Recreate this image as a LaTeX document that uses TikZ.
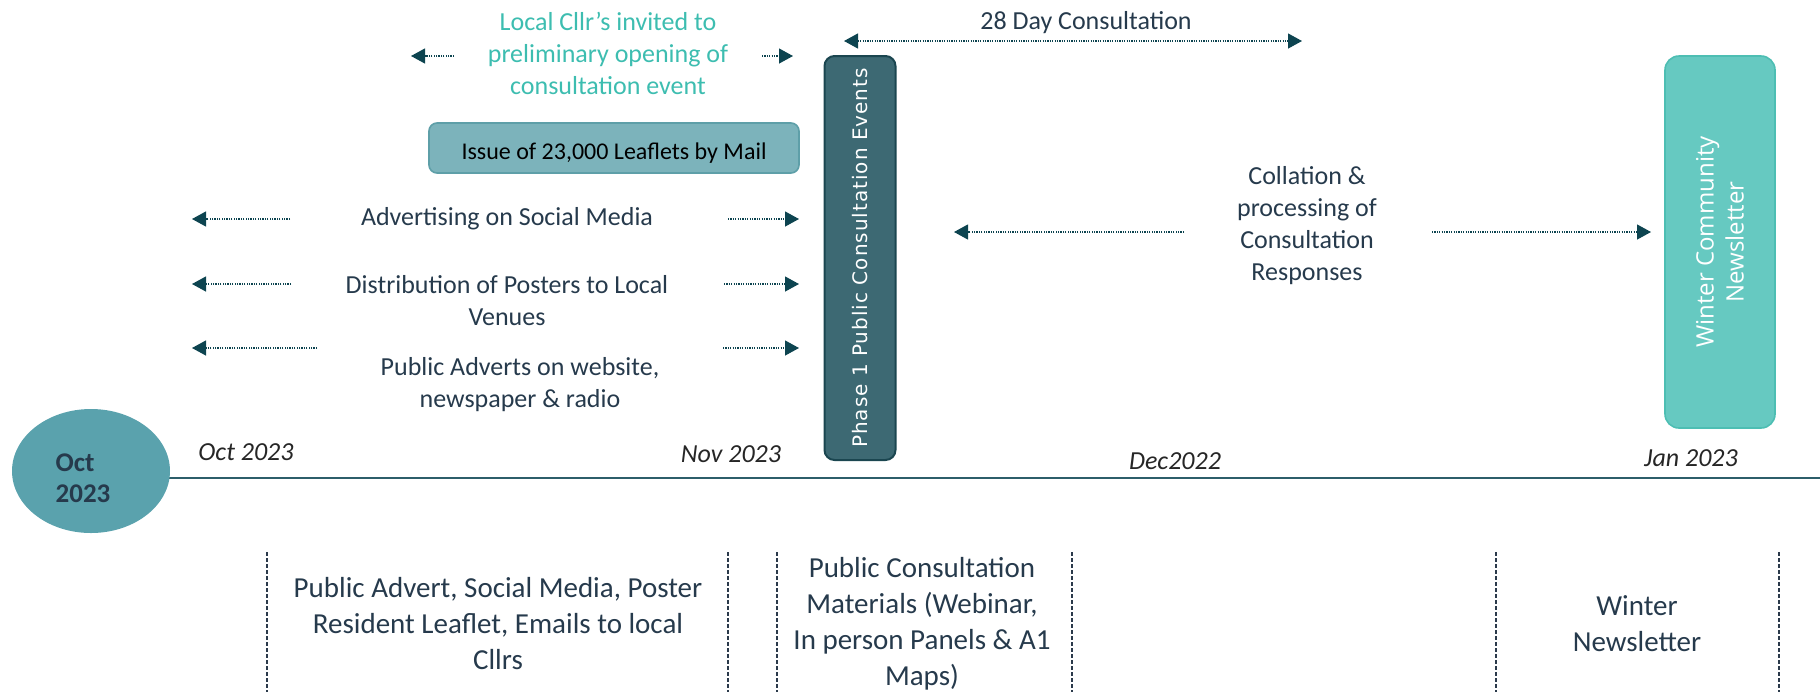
\documentclass[tikz,border=0pt]{standalone}
\usepackage{fontspec}
\setmainfont{Carlito}
\newfontfamily\phasefont[LetterSpace=5]{DejaVu Sans}
\newfontfamily\newsfont{Open Sans}
\usepackage{tikz}
\usetikzlibrary{arrows.meta,shapes.geometric}
\usepackage{xcolor}
\definecolor{inktext}{HTML}{263A4C}
\definecolor{cllrteal}{HTML}{3DBDB0}
\definecolor{arrowink}{HTML}{0D4450}
\definecolor{phasefill}{HTML}{3D6973}
\definecolor{phaseedge}{HTML}{1B4650}
\definecolor{newsfill}{HTML}{66C9C1}
\definecolor{newsedge}{HTML}{4DBEB3}
\definecolor{leaffill}{HTML}{7CB3BB}
\definecolor{leafedge}{HTML}{5E9FA8}
\definecolor{circfill}{HTML}{5AA2AD}
\definecolor{timeink}{HTML}{2C5E6A}
\definecolor{sepink}{HTML}{2B3A4B}

\tikzset{
  lbl/.style={font=\fontsize{13}{16}\selectfont, text=inktext, align=center, inner sep=0pt},
  cllrlbl/.style={lbl, text=cllrteal},
  datelbl/.style={font=\fontsize{13}{16}\selectfont\itshape, text=black!85, inner sep=0pt},
  notelbl/.style={font=\fontsize{14.5}{18}\selectfont, text=inktext, align=center, inner sep=0pt},
  tipline/.style={draw=arrowink, line width=0.6pt, dash pattern=on 0.6pt off 0.6pt,
    -{Triangle[length=7pt,width=7.5pt]}},
  phasebox/.style={rotate=90, draw=phaseedge, fill=phasefill, line width=1pt,
    rounded corners=5pt, minimum width=202pt, minimum height=35.5pt, inner sep=0pt,
    text=white, font=\phasefont\fontsize{10}{12}\selectfont},
  newsbox/.style={rotate=90, draw=newsedge, fill=newsfill, line width=0.8pt,
    rounded corners=7pt, minimum width=186pt, minimum height=55pt, inner sep=0pt,
    align=center, text=white, font=\newsfont\fontsize{12}{15}\selectfont},
  leafbox/.style={draw=leafedge, fill=leaffill, line width=0.8pt, rounded corners=4pt,
    minimum width=185pt, minimum height=25pt, inner sep=0pt},
  sep/.style={draw=sepink, line width=0.8pt, dash pattern=on 2pt off 1pt}
}

\begin{document}
\begin{tikzpicture}[x=0.5pt,y=-0.5pt]
    \useasboundingbox (0,0) rectangle (1820,692);

    % Upper lane: pre-consultation publicity
    \node[cllrlbl] (cllr) at (608,53) {Local Cllr’s invited to\\preliminary opening of\\consultation event};
    \node[leafbox] (leaflet) at (614,148) {};
    \node[font=\fontsize{12}{14}\selectfont, text=black, inner sep=0pt] (leaftxt) at (614,153) {Issue of 23,000 Leaflets by Mail};
    \node[lbl] (adv) at (507,219) {Advertising on Social Media};
    \node[lbl] (dist) at (507,301) {Distribution of Posters to Local\\Venues};
    \node[lbl] (pub) at (520,385) {Public Adverts on website,\\newspaper \& radio};

    % Consultation period
    \node[lbl] (days) at (1086,23) {28 Day Consultation};
    \coordinate (days-l) at (844,41);
    \coordinate (days-r) at (1302,41);
    \draw[tipline, {Triangle[length=7pt,width=7.5pt]}-{Triangle[length=7pt,width=7.5pt]}] (days-l) -- (days-r);
    \node[phasebox] (phase) at (860,258) {Phase 1 Public Consultation Events};
    \node[lbl] (coll) at (1307,226) {Collation \&\\processing of\\Consultation\\Responses};
    \node[newsbox] (news) at (1720,242) {Winter Community\\Newsletter};

    % Arrows either side of the labels
    \foreach \nm/\y/\la/\lb/\ra/\rb in {cllr/56/411/454/762/793, adv/219/192/290/728/799,
        dist/284/192/291/724/799, pub/348/192/317/723/799, coll/232/954/1184/1432/1651}{
      \coordinate (\nm-lt) at (\la,\y);
      \coordinate (\nm-ls) at (\lb,\y);
      \coordinate (\nm-rs) at (\ra,\y);
      \coordinate (\nm-rt) at (\rb,\y);
      \draw[tipline] (\nm-ls) -- (\nm-lt);
      \draw[tipline] (\nm-rs) -- (\nm-rt);
    }

    % Timeline
    \coordinate (tl-start) at (165,478);
    \coordinate (tl-end) at (1820,478);
    \draw[timeink, line width=1pt] (tl-start) -- (tl-end);
    \node[ellipse, fill=circfill, minimum width=79pt, minimum height=62pt, inner sep=0pt] (octdot) at (91,471) {};
    \node[font=\fontsize{13.5}{15.5}\selectfont\bfseries, text=inktext, align=left, inner sep=0pt] (octtxt) at (83,478) {Oct\\2023};
    \node[datelbl] (oct) at (246,452) {Oct 2023};
    \node[datelbl] (nov) at (731,454) {Nov 2023};
    \node[datelbl] (dec) at (1175,461) {Dec2022};
    \node[datelbl] (jan) at (1691,458) {Jan 2023};

    % Lower lane: materials
    \foreach \x in {267,728,777,1072,1496,1779}
      \draw[sep] (\x,552) -- (\x,692);
    \node[notelbl] (mat1) at (498,624) {Public Advert, Social Media, Poster\\Resident Leaflet, Emails to local\\Cllrs};
    \node[notelbl] (mat2) at (922,624) {Public Consultation\\Materials (Webinar,\\In person Panels \& A1\\Maps)};
    \node[notelbl] (mat3) at (1637,624) {Winter\\Newsletter};
\end{tikzpicture}
\end{document}
